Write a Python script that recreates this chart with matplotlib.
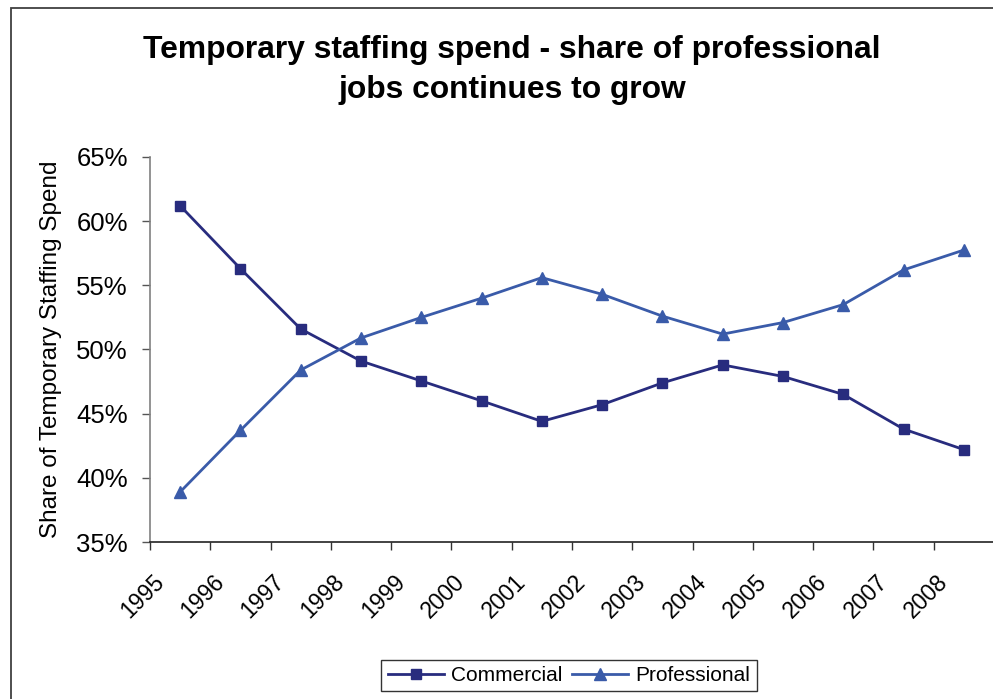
import numpy as np
import matplotlib
matplotlib.use("Agg")
import matplotlib.pyplot as plt
import matplotlib.transforms as mtrans
from matplotlib.patches import Rectangle
from matplotlib.ticker import FixedLocator, PercentFormatter, NullFormatter

plt.rcParams["font.family"] = ["Liberation Sans", "DejaVu Sans"]

years = ["1995", "1996", "1997", "1998", "1999", "2000", "2001",
         "2002", "2003", "2004", "2005", "2006", "2007", "2008"]
commercial = [61.2, 56.3, 51.6, 49.1, 47.55, 46.0, 44.4,
              45.7, 47.4, 48.8, 47.9, 46.5, 43.8, 42.2]
professional = [38.9, 43.7, 48.4, 50.9, 52.5, 54.0, 55.6,
                54.3, 52.6, 51.2, 52.1, 53.5, 56.2, 57.75]

COM = "#282c7e"; PRO = "#3a5ba9"
W, H = 993, 699
fig = plt.figure(figsize=(W/100, H/100), dpi=100)

# outer chart frame (left + top edges visible, rest cropped)
fig.patches.append(Rectangle((11/W, -0.05), 1.1, 1 - 8/H + 0.05, transform=fig.transFigure,
                             fill=False, ec="#404040", lw=1.3))

ax = fig.add_axes([150/W, 1-542/H, 844/W, 385/H])
x = np.arange(len(years))
ax.plot(x, commercial, color=COM, lw=2.0, marker="s", ms=7.2, label="Commercial")
ax.plot(x, professional, color=PRO, lw=2.0, marker="^", ms=8.3, label="Professional")

ax.set_xlim(-0.5, len(years) - 0.5)
ax.set_ylim(35, 65)
ax.set_yticks(np.arange(35, 66, 5))
ax.yaxis.set_major_formatter(PercentFormatter(decimals=0))
# ticks between categories, Excel style
ax.xaxis.set_major_locator(FixedLocator(np.arange(-0.5, len(years) - 1, 1.0)))
ax.xaxis.set_major_formatter(NullFormatter())
ax.tick_params(axis="x", direction="out", length=6, width=1, color="#333333")
ax.tick_params(axis="y", direction="out", length=6, width=1, color="#555555",
               pad=10, labelsize=18.5)

# rotated category labels, right end left of category centre
off = mtrans.ScaledTranslation(-28/100, -28/100, fig.dpi_scale_trans)
for xi, yr in zip(x, years):
    ax.text(xi, 0, yr, transform=ax.get_xaxis_transform() + off, rotation=45,
            rotation_mode="anchor", ha="right", va="top", fontsize=16.5, clip_on=False)

for s in ("top", "right"):
    ax.spines[s].set_visible(False)
ax.spines["left"].set_color("#808080"); ax.spines["left"].set_linewidth(1.2)
ax.spines["bottom"].set_color("#222222"); ax.spines["bottom"].set_linewidth(1.2)

fig.text(51/W, 1-349/H, "Share of Temporary Staffing Spend", rotation=90,
         ha="center", va="center", fontsize=17.5)
fig.text(512/W, 1-70/H, "Temporary staffing spend - share of professional\njobs continues to grow",
         ha="center", va="center", fontsize=22.9, weight="bold", linespacing=1.45)

leg = fig.legend(loc="center", bbox_to_anchor=(569/W, 1-675.5/H), ncol=2, fontsize=15,
                 frameon=True, fancybox=False, edgecolor="black", handlelength=2.7,
                 handletextpad=0.35, columnspacing=0.45, borderpad=0.3, borderaxespad=0)
leg.get_frame().set_linewidth(1.0)

fig.savefig("out.png", dpi=100)
